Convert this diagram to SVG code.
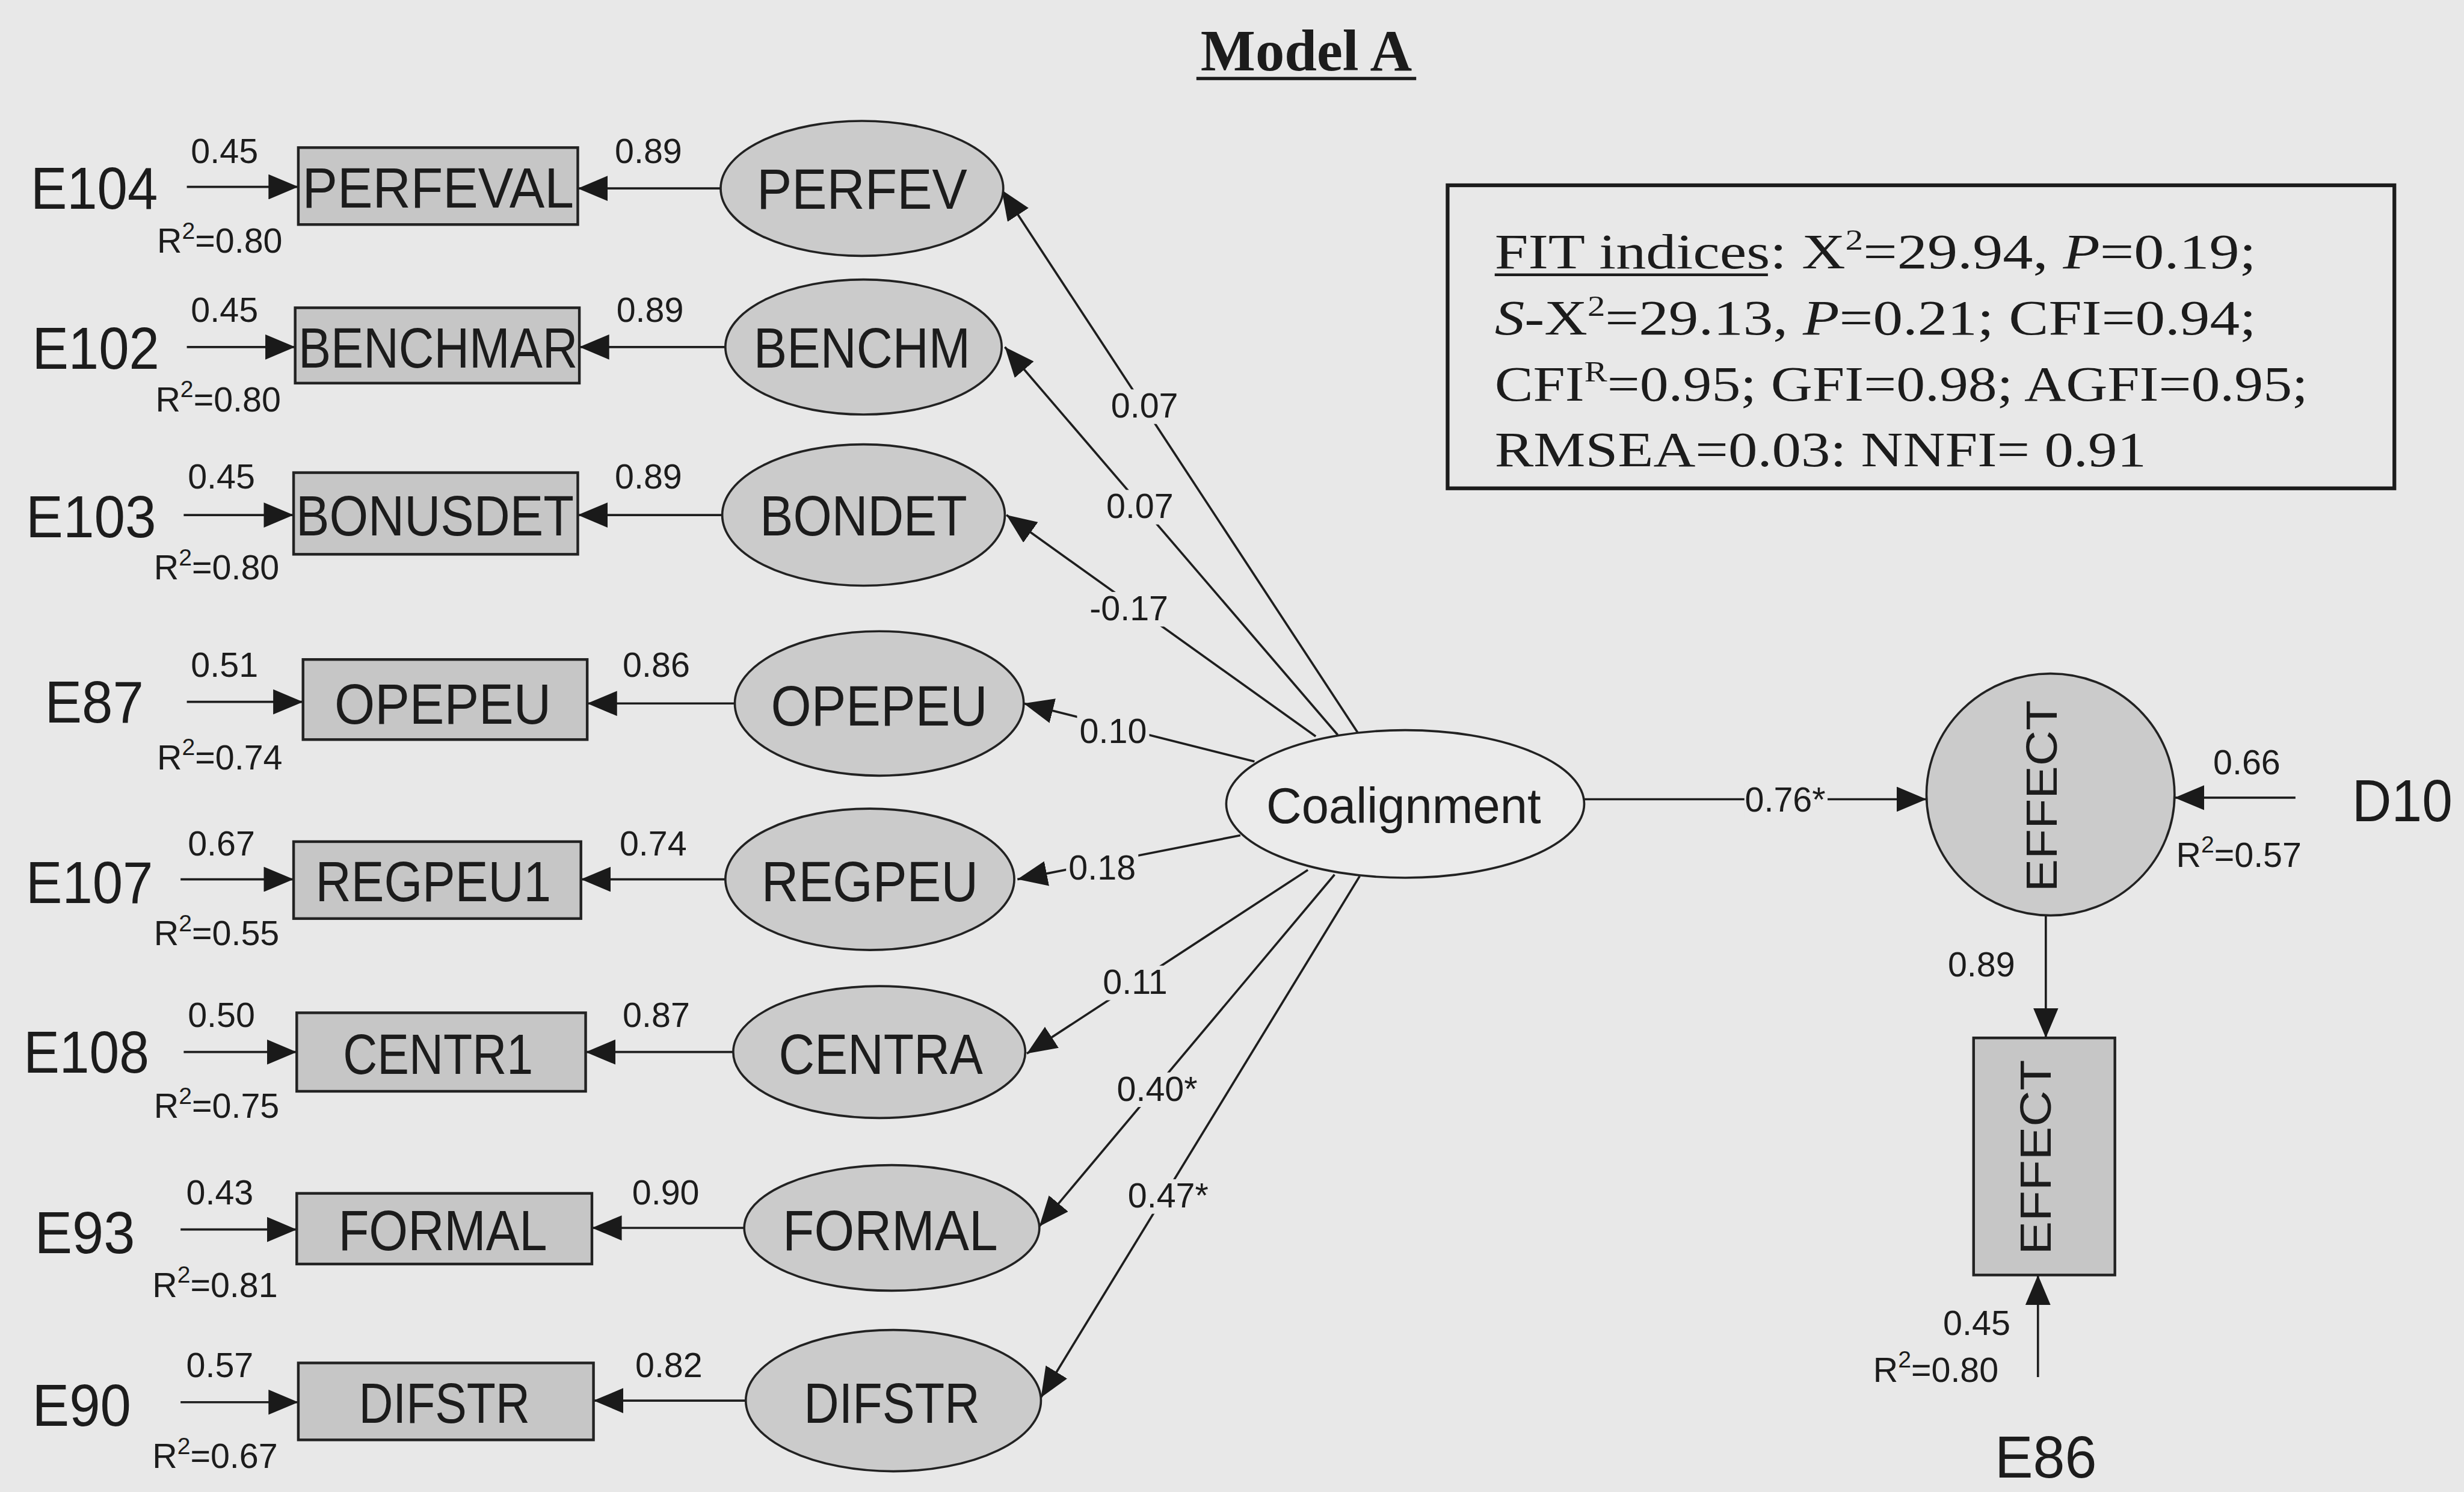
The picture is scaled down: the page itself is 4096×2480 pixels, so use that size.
<svg xmlns="http://www.w3.org/2000/svg" width="4096" height="2480" viewBox="0 0 4096 2480">
<defs>
<style>
.t{font-family:"Liberation Sans",Arial,sans-serif;fill:#1c1c1c}
.big{font-size:38px;text-anchor:middle}
.nl{font-size:36px;text-anchor:middle}
.n{font-size:22px;text-anchor:middle}
.r{font-size:22px}
.sup{font-size:15px}
.box{fill:#c6c6c6;stroke:#222;stroke-width:1.7}
.lat{fill:#cbcbcb;stroke:#222;stroke-width:1.4}
.c{stroke:#1e1e1e;stroke-width:1.4;fill:none;marker-end:url(#ah)}
.gap{fill:#e8e8e8;stroke:none}
.fit{font-family:"Liberation Serif","Times New Roman",serif;font-size:32px;fill:#1c1c1c}
.fs{font-size:19px}
</style>
<marker id="ah" markerUnits="userSpaceOnUse" markerWidth="20" markerHeight="16" refX="19" refY="8" orient="auto"><path d="M0,0 L19,8 L0,16 Z" fill="#1a1a1a"/></marker>
</defs>
<rect x="0" y="0" width="4096" height="2480" fill="#e8e8e8"/>
<g transform="scale(2.61)">
<g id="title">
<text x="832" y="45" font-family="'Liberation Serif','Times New Roman',serif" font-weight="bold" font-size="37" text-anchor="middle" fill="#1c1c1c">Model A</text>
<line x1="762" y1="50" x2="902" y2="50" stroke="#1c1c1c" stroke-width="2.2"/>
</g>

<!-- connectors -->
<g id="connectors">
<line class="c" x1="119" y1="119" x2="190" y2="119"/>
<line class="c" x1="459" y1="120" x2="368" y2="120"/>
<line class="c" x1="119" y1="221" x2="188" y2="221"/>
<line class="c" x1="462" y1="221" x2="369" y2="221"/>
<line class="c" x1="117" y1="328" x2="187" y2="328"/>
<line class="c" x1="460" y1="328" x2="368" y2="328"/>
<line class="c" x1="119" y1="447" x2="193" y2="447"/>
<line class="c" x1="468" y1="448" x2="374" y2="448"/>
<line class="c" x1="115" y1="560" x2="187" y2="560"/>
<line class="c" x1="462" y1="560" x2="370" y2="560"/>
<line class="c" x1="117" y1="670" x2="189" y2="670"/>
<line class="c" x1="467" y1="670" x2="373" y2="670"/>
<line class="c" x1="115" y1="783" x2="189" y2="783"/>
<line class="c" x1="474" y1="782" x2="377" y2="782"/>
<line class="c" x1="115" y1="893" x2="190" y2="893"/>
<line class="c" x1="475" y1="892" x2="378" y2="892"/>

<line class="c" x1="865" y1="467" x2="638" y2="121"/>
<line class="c" x1="852" y1="468" x2="640" y2="221"/>
<line class="c" x1="838" y1="469" x2="641" y2="328"/>
<line class="c" x1="799" y1="485" x2="652" y2="448"/>
<line class="c" x1="790" y1="532" x2="648" y2="560"/>
<line class="c" x1="833" y1="554" x2="654" y2="671"/>
<line class="c" x1="850" y1="557" x2="662" y2="781"/>
<line class="c" x1="866" y1="558" x2="663" y2="890"/>

<line class="c" x1="1009" y1="509" x2="1227" y2="509"/>
<line class="c" x1="1462" y1="508" x2="1385" y2="508"/>
<line class="c" x1="1303" y1="583" x2="1303" y2="661"/>
<line class="c" x1="1298" y1="877" x2="1298" y2="812"/>

<rect class="gap" x="706" y="248" width="46" height="22"/>
<rect class="gap" x="703" y="312" width="46" height="22"/>
<rect class="gap" x="693" y="377" width="52" height="22"/>
<rect class="gap" x="686" y="455" width="46" height="22"/>
<rect class="gap" x="679" y="542" width="46" height="22"/>
<rect class="gap" x="700" y="615" width="46" height="22"/>
<rect class="gap" x="711" y="683" width="53" height="22"/>
<rect class="gap" x="718" y="751" width="53" height="22"/>
<rect class="gap" x="1111" y="499" width="53" height="22"/>

<g class="t n">
<text x="143" y="104">0.45</text><text x="413" y="104">0.89</text>
<text x="143" y="205">0.45</text><text x="414" y="205">0.89</text>
<text x="141" y="311">0.45</text><text x="413" y="311">0.89</text>
<text x="143" y="431">0.51</text><text x="418" y="431">0.86</text>
<text x="141" y="545">0.67</text><text x="416" y="545">0.74</text>
<text x="141" y="654">0.50</text><text x="418" y="654">0.87</text>
<text x="140" y="767">0.43</text><text x="424" y="767">0.90</text>
<text x="140" y="877">0.57</text><text x="426" y="877">0.82</text>
<text x="729" y="266">0.07</text>
<text x="726" y="330">0.07</text>
<text x="719" y="395">-0.17</text>
<text x="709" y="473">0.10</text>
<text x="702" y="560">0.18</text>
<text x="723" y="633">0.11</text>
<text x="737" y="701">0.40*</text>
<text x="744" y="769">0.47*</text>
<text x="1137" y="517">0.76*</text>
<text x="1431" y="493">0.66</text>
<text x="1262" y="622">0.89</text>
<text x="1259" y="850">0.45</text>
</g>
<g class="t r">
<text x="100" y="161">R<tspan class="sup" dy="-9">2</tspan><tspan dy="9">=0.80</tspan></text>
<text x="99" y="262">R<tspan class="sup" dy="-9">2</tspan><tspan dy="9">=0.80</tspan></text>
<text x="98" y="369">R<tspan class="sup" dy="-9">2</tspan><tspan dy="9">=0.80</tspan></text>
<text x="100" y="490">R<tspan class="sup" dy="-9">2</tspan><tspan dy="9">=0.74</tspan></text>
<text x="98" y="602">R<tspan class="sup" dy="-9">2</tspan><tspan dy="9">=0.55</tspan></text>
<text x="98" y="712">R<tspan class="sup" dy="-9">2</tspan><tspan dy="9">=0.75</tspan></text>
<text x="97" y="826">R<tspan class="sup" dy="-9">2</tspan><tspan dy="9">=0.81</tspan></text>
<text x="97" y="935">R<tspan class="sup" dy="-9">2</tspan><tspan dy="9">=0.67</tspan></text>
<text x="1386" y="552">R<tspan class="sup" dy="-9">2</tspan><tspan dy="9">=0.57</tspan></text>
<text x="1193" y="880">R<tspan class="sup" dy="-9">2</tspan><tspan dy="9">=0.80</tspan></text>
</g>
</g>

<!-- error terms -->
<g id="E104"><text class="t big" x="60" y="133" textLength="81" lengthAdjust="spacingAndGlyphs">E104</text></g>
<g id="E102"><text class="t big" x="61" y="235" textLength="81" lengthAdjust="spacingAndGlyphs">E102</text></g>
<g id="E103"><text class="t big" x="58" y="342" textLength="83" lengthAdjust="spacingAndGlyphs">E103</text></g>
<g id="E87"><text class="t big" x="60" y="460" textLength="63" lengthAdjust="spacingAndGlyphs">E87</text></g>
<g id="E107"><text class="t big" x="57" y="575" textLength="81" lengthAdjust="spacingAndGlyphs">E107</text></g>
<g id="E108"><text class="t big" x="55" y="683" textLength="80" lengthAdjust="spacingAndGlyphs">E108</text></g>
<g id="E93"><text class="t big" x="54" y="798" textLength="64" lengthAdjust="spacingAndGlyphs">E93</text></g>
<g id="E90"><text class="t big" x="52" y="908" textLength="63" lengthAdjust="spacingAndGlyphs">E90</text></g>
<g id="D10"><text class="t big" x="1530" y="523" textLength="64" lengthAdjust="spacingAndGlyphs">D10</text></g>
<g id="E86"><text class="t big" x="1303" y="941" textLength="65" lengthAdjust="spacingAndGlyphs">E86</text></g>

<!-- observed -->
<g id="PERFEVAL"><rect class="box" x="190" y="94" width="178" height="49"/><text class="t nl" x="279" y="132" textLength="173" lengthAdjust="spacingAndGlyphs">PERFEVAL</text></g>
<g id="BENCHMAR"><rect class="box" x="188" y="196" width="181" height="48"/><text class="t nl" x="279" y="234" textLength="178" lengthAdjust="spacingAndGlyphs">BENCHMAR</text></g>
<g id="BONUSDET"><rect class="box" x="187" y="301" width="181" height="52"/><text class="t nl" x="277" y="341" textLength="177" lengthAdjust="spacingAndGlyphs">BONUSDET</text></g>
<g id="OPEPEU-obs"><rect class="box" x="193" y="420" width="181" height="51"/><text class="t nl" x="282" y="461" textLength="138" lengthAdjust="spacingAndGlyphs">OPEPEU</text></g>
<g id="REGPEU1"><rect class="box" x="187" y="536" width="183" height="49"/><text class="t nl" x="276" y="574" textLength="150" lengthAdjust="spacingAndGlyphs">REGPEU1</text></g>
<g id="CENTR1"><rect class="box" x="189" y="645" width="184" height="50"/><text class="t nl" x="279" y="684" textLength="121" lengthAdjust="spacingAndGlyphs">CENTR1</text></g>
<g id="FORMAL-obs"><rect class="box" x="189" y="760" width="188" height="45"/><text class="t nl" x="282" y="796" textLength="133" lengthAdjust="spacingAndGlyphs">FORMAL</text></g>
<g id="DIFSTR-obs"><rect class="box" x="190" y="868" width="188" height="49"/><text class="t nl" x="283" y="906" textLength="109" lengthAdjust="spacingAndGlyphs">DIFSTR</text></g>

<!-- latent -->
<g id="PERFEV"><ellipse class="lat" cx="549" cy="120" rx="90" ry="43"/><text class="t nl" x="549" y="133" textLength="134" lengthAdjust="spacingAndGlyphs">PERFEV</text></g>
<g id="BENCHM"><ellipse class="lat" cx="550" cy="221" rx="88" ry="43"/><text class="t nl" x="549" y="234" textLength="138" lengthAdjust="spacingAndGlyphs">BENCHM</text></g>
<g id="BONDET"><ellipse class="lat" cx="550" cy="328" rx="90" ry="45"/><text class="t nl" x="550" y="341" textLength="132" lengthAdjust="spacingAndGlyphs">BONDET</text></g>
<g id="OPEPEU"><ellipse class="lat" cx="560" cy="448" rx="92" ry="46"/><text class="t nl" x="560" y="462" textLength="138" lengthAdjust="spacingAndGlyphs">OPEPEU</text></g>
<g id="REGPEU"><ellipse class="lat" cx="554" cy="560" rx="92" ry="45"/><text class="t nl" x="554" y="574" textLength="138" lengthAdjust="spacingAndGlyphs">REGPEU</text></g>
<g id="CENTRA"><ellipse class="lat" cx="560" cy="670" rx="93" ry="42"/><text class="t nl" x="561" y="684" textLength="130" lengthAdjust="spacingAndGlyphs">CENTRA</text></g>
<g id="FORMAL"><ellipse class="lat" cx="568" cy="782" rx="94" ry="40"/><text class="t nl" x="567" y="796" textLength="137" lengthAdjust="spacingAndGlyphs">FORMAL</text></g>
<g id="DIFSTR"><ellipse class="lat" cx="569" cy="892" rx="94" ry="45"/><text class="t nl" x="568" y="906" textLength="112" lengthAdjust="spacingAndGlyphs">DIFSTR</text></g>

<g id="Coalignment"><ellipse cx="895" cy="512" rx="114" ry="47" fill="#ebebeb" stroke="#222" stroke-width="1.4"/><text class="t" font-size="32" text-anchor="middle" x="894" y="524" textLength="175" lengthAdjust="spacingAndGlyphs">Coalignment</text></g>

<g id="EFFECT-latent"><ellipse class="lat" cx="1306" cy="506" rx="79" ry="77"/><text class="t" font-size="28" text-anchor="middle" x="1300" y="517" textLength="122" lengthAdjust="spacingAndGlyphs" transform="rotate(-90 1300 507)">EFFECT</text></g>
<g id="EFFECT-observed"><rect class="box" x="1257" y="661" width="90" height="151"/><text class="t" font-size="28" text-anchor="middle" x="1296" y="747" textLength="124" lengthAdjust="spacingAndGlyphs" transform="rotate(-90 1296 737)">EFFECT</text></g>

<g id="fit-indices">
<rect x="922" y="118" width="603" height="193" fill="none" stroke="#1c1c1c" stroke-width="2.4"/>
<text class="fit" x="952" y="171" textLength="485" lengthAdjust="spacingAndGlyphs">FIT indices: X<tspan class="fs" dy="-12">2</tspan><tspan dy="12">=29.94, </tspan><tspan font-style="italic">P</tspan>=0.19;</text>
<line x1="952" y1="175" x2="1126" y2="175" stroke="#1c1c1c" stroke-width="1.8"/>
<text class="fit" x="952" y="213" textLength="485" lengthAdjust="spacingAndGlyphs"><tspan font-style="italic">S</tspan>-X<tspan class="fs" dy="-12">2</tspan><tspan dy="12">=29.13, </tspan><tspan font-style="italic">P</tspan>=0.21; CFI=0.94;</text>
<text class="fit" x="952" y="255" textLength="518" lengthAdjust="spacingAndGlyphs">CFI<tspan class="fs" dy="-12">R</tspan><tspan dy="12">=0.95; GFI=0.98; AGFI=0.95;</tspan></text>
<text class="fit" x="952" y="297" textLength="415" lengthAdjust="spacingAndGlyphs">RMSEA=0.03: NNFI= 0.91</text>
</g>
</g>
</svg>
